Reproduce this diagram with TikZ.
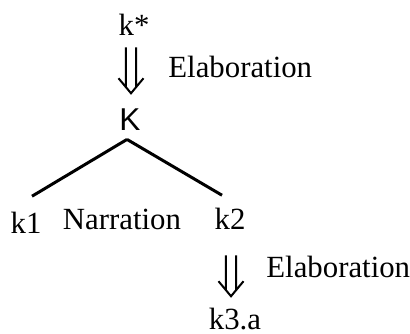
\documentclass[tikz,border=0pt]{standalone}
\usepackage{fontspec}
\setmainfont{Liberation Serif}
\newfontfamily\arialfont{Liberation Sans}

\tikzset{
  word/.style={inner sep=0pt, anchor=base, font=\fontsize{15.4}{18}\selectfont},
  branch/.style={line width=1.5pt},
  dline/.style={line width=1pt}
}

% double down arrow from a top point to a tip point
\newcommand{\dblarrow}[2]{%
  \path #2 coordinate (tip) #1 coordinate (tail0) (tip |- tail0) coordinate (tail);
  \draw[dline] ([xshift=-2.6pt]tail) -- ([xshift=-2.6pt,yshift=3pt]tip)
               ([xshift=2.6pt]tail) -- ([xshift=2.6pt,yshift=3pt]tip)
               ([xshift=-6.25pt,yshift=7.5pt]tip) -- (tip) -- ([xshift=6.25pt,yshift=7.5pt]tip);
}

\begin{document}
\begin{tikzpicture}[x=0.5pt, y=-0.5pt]
\useasboundingbox (0,0) rectangle (410,333);
% the labels
\node[word] (kstar) at (134,35) {k*};
\node[word, anchor=base west] (elab1) at (168,77) {Elaboration};
\node[word, font=\fontsize{15.8}{18}\arialfont] (K) at (130,130) {K};
\node[word] (k1) at (26,233) {k1};
\node[word] (narr) at (122,229) {Narration};
\node[word] (k2) at (230,229) {k2};
\node[word, anchor=base west] (elab2) at (266,277) {Elaboration};
\node[word] (k3a) at (235,329) {k3.a};
% the tree
\draw[branch] ([xshift=-1.5pt,yshift=-4.5pt]K.south) -- ([xshift=3pt,yshift=7.5pt]k1.north);
\draw[branch] ([xshift=-1.5pt,yshift=-4.5pt]K.south) -- ([xshift=-4pt,yshift=6pt]k2.north);
% the elaboration arrows
\dblarrow{([yshift=-6pt]kstar.south)}{([xshift=0.5pt,yshift=7.3pt]K.north)}
\dblarrow{([yshift=-13pt]k2.south)}{([xshift=-2pt,yshift=5.5pt]k3a.north)}
\end{tikzpicture}
\end{document}
